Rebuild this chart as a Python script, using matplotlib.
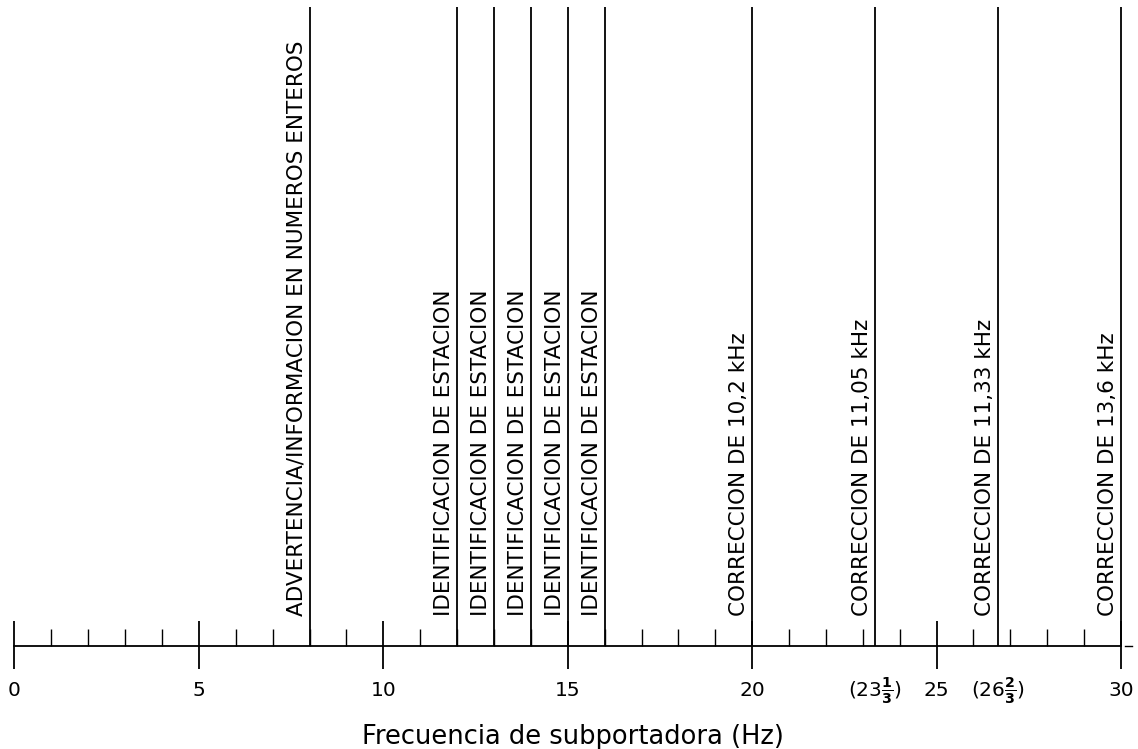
import matplotlib.pyplot as plt

plt.rcParams['font.family'] = ['DejaVu Sans']
plt.rcParams['mathtext.fontset'] = 'dejavusans'

# subcarrier lines and their labels
freqs = [8, 12, 13, 14, 15, 16, 20, 70 / 3, 80 / 3, 30]
labels = [
    'ADVERTENCIA/INFORMACION EN NUMEROS ENTEROS',
    'IDENTIFICACION DE ESTACION',
    'IDENTIFICACION DE ESTACION',
    'IDENTIFICACION DE ESTACION',
    'IDENTIFICACION DE ESTACION',
    'IDENTIFICACION DE ESTACION',
    'CORRECCION DE 10,2 kHz',
    'CORRECCION DE 11,05 kHz',
    'CORRECCION DE 11,33 kHz',
    'CORRECCION DE 13,6 kHz',
]

major_ticks = [0, 5, 10, 15, 20, 25, 30]
minor_ticks = [i for i in range(31) if i % 5 != 0]
tick_pos = [0, 5, 10, 15, 20, 70 / 3, 25, 80 / 3, 30]
tick_txt = ['0', '5', '10', '15', '20', r'(23$\mathbf{\frac{1}{3}}$)', '25',
            r'(26$\mathbf{\frac{2}{3}}$)', '30']

fig = plt.figure(figsize=(11.38, 7.49), dpi=100)
ax = fig.add_axes([0, 0, 1, 1])
ax.set_xlim(-0.393, 30.46)
ax.set_ylim(749, 0)  # y in pixel rows, top down
ax.axis('off')

base = 646
lw = 1.3
ax.plot([0, 30], [base, base], color='black', lw=lw)
ax.plot([30.1, 30.3], [base, base], color='black', lw=1)

ax.vlines(major_ticks, 621, 669, color='black', lw=lw)
ax.vlines(minor_ticks, 629, base, color='black', lw=1.0)

ax.vlines(freqs, 7, base, color='black', lw=lw)

for f, lab in zip(freqs, labels):
    ax.text(f - 0.08, 616, lab, rotation=90, ha='right', va='bottom',
            fontsize=15.5, color='black')

for p, t in zip(tick_pos, tick_txt):
    ax.text(p, 691, t, ha='center', va='center', fontsize=14.5, color='black')

ax.text(15.15, 737, 'Frecuencia de subportadora (Hz)', ha='center', va='center',
        fontsize=18.5, color='black')

fig.savefig('out.png', dpi=100, facecolor='white')
